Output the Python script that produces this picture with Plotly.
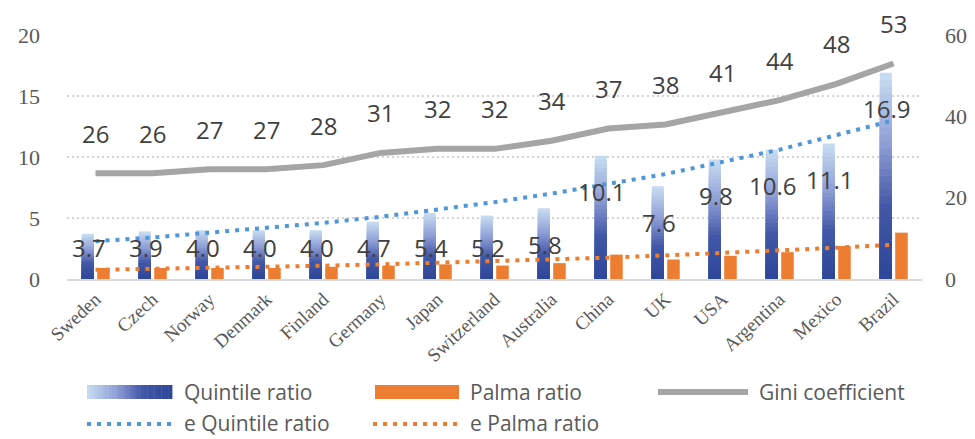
import plotly.graph_objects as go

# ---------------- data ----------------
countries = ["Sweden", "Czech", "Norway", "Denmark", "Finland", "Germany", "Japan",
             "Switzerland", "Australia", "China", "UK", "USA", "Argentina", "Mexico", "Brazil"]
quintile = [3.7, 3.9, 4.0, 4.0, 4.0, 4.7, 5.4, 5.2, 5.8, 10.1, 7.6, 9.8, 10.6, 11.1, 16.9]
palma = [0.9, 0.9, 0.9, 0.9, 1.0, 1.1, 1.2, 1.1, 1.3, 2.0, 1.6, 1.9, 2.2, 2.7, 3.8]
gini = [26, 26, 27, 27, 28, 31, 32, 32, 34, 37, 38, 41, 44, 48, 53]
quintile_trend = [3.1, 3.4, 3.8, 4.2, 4.6, 5.1, 5.7, 6.3, 7.0, 7.8, 8.6, 9.6, 10.6, 11.8, 13.0]
palma_trend = [0.75, 0.82, 0.91, 1.0, 1.09, 1.2, 1.32, 1.45, 1.6, 1.75, 1.93, 2.12, 2.33, 2.56, 2.8]
left_ticks = [0, 5, 10, 15, 20]
right_ticks = [0, 20, 40, 60]
legend_labels = ["Quintile ratio", "Palma ratio", "Gini coefficient", "e Quintile ratio", "e Palma ratio"]

# ---------------- styling ----------------
W, H = 975, 439
OFF = 8  # page body margin
L, R, T, B = 59, 61, 27, 168
PW, PH = W - L - R, H - T - B

def px_x(p):  # screen px -> paper
    return (p - OFF - L) / PW

def px_y(p):
    return (H - B - (p - OFF)) / PH

ORANGE = "#ed7d31"
BLUE_DOT = "#4f97da"
GRAY = "#a5a5a5"
TXT = "#404040"
AX = "#595959"
SANS = "Open Sans"
SERIF = "Liberation Serif, Times New Roman, serif"

stops = [(0.0, (201, 222, 242)), (0.35, (141, 157, 213)), (0.65, (66, 87, 167)), (1.0, (46, 70, 153))]

def grad(t):
    for (t0, c0), (t1, c1) in zip(stops[:-1], stops[1:]):
        if t <= t1:
            f = (t - t0) / (t1 - t0) if t1 > t0 else 0
            c = [round(a + (b - a) * f) for a, b in zip(c0, c1)]
            return "rgb(%d,%d,%d)" % tuple(c)
    return "rgb(%d,%d,%d)" % stops[-1][1]

fig = go.Figure()

# gradient quintile bars (layered: light at top, dark at bottom)
N = 30
for k in range(N):
    t = k / N
    fig.add_trace(go.Bar(
        x=countries, y=[v * (1 - t) for v in quintile],
        offset=-0.24, width=0.21,
        marker=dict(color=grad(t + 0.5 / N), line=dict(width=0)),
        showlegend=False, hoverinfo="skip", name="Quintile ratio"))

fig.add_trace(go.Bar(x=countries, y=palma, offset=0.03, width=0.22,
                     marker=dict(color=ORANGE, line=dict(width=0)),
                     name="Palma ratio", showlegend=False))

fig.add_trace(go.Scatter(x=countries, y=gini, yaxis="y2", mode="lines",
                         line=dict(color=GRAY, width=6), name="Gini coefficient", showlegend=False))

fig.add_trace(go.Scatter(x=countries, y=quintile_trend, mode="lines",
                         line=dict(color=BLUE_DOT, width=4, dash="4px,6px"),
                         name="e Quintile ratio", showlegend=False))
fig.add_trace(go.Scatter(x=countries, y=palma_trend, mode="lines",
                         line=dict(color=ORANGE, width=4, dash="4px,6px"),
                         name="e Palma ratio", showlegend=False))

ann = []
for c, g in zip(countries, gini):
    ann.append(dict(x=c, y=g, xref="x", yref="y2", yshift=40, showarrow=False,
                    text=str(g), font=dict(family=SANS, size=24, color=TXT)))
for c, v in zip(countries, quintile):
    ann.append(dict(x=c, y=max(v - 2.95, 2.6), xref="x", yref="y", xshift=-7, showarrow=False,
                    text="%.1f" % v, font=dict(family=SANS, size=24, color=TXT)))

# custom legend
row1, row2 = 392, 423
shapes = []
lx0, lx1 = 87, 172
ns = 24
for i in range(ns):
    a = lx0 + (lx1 - lx0) * i / ns
    b = lx0 + (lx1 - lx0) * (i + 1) / ns
    shapes.append(dict(type="rect", xref="paper", yref="paper",
                       x0=px_x(a), x1=px_x(b) + 0.0005, y0=px_y(row1 + 7), y1=px_y(row1 - 7),
                       fillcolor=grad((i + 0.5) / ns), line=dict(width=0)))
shapes.append(dict(type="rect", xref="paper", yref="paper",
                   x0=px_x(375), x1=px_x(459), y0=px_y(row1 + 7), y1=px_y(row1 - 7),
                   fillcolor=ORANGE, line=dict(width=0)))
shapes.append(dict(type="line", xref="paper", yref="paper",
                   x0=px_x(658), x1=px_x(748), y0=px_y(row1), y1=px_y(row1),
                   line=dict(color=GRAY, width=6)))
shapes.append(dict(type="line", xref="paper", yref="paper",
                   x0=px_x(87), x1=px_x(172), y0=px_y(row2 + 1), y1=px_y(row2 + 1),
                   line=dict(color=BLUE_DOT, width=4, dash="4px,6px")))
shapes.append(dict(type="line", xref="paper", yref="paper",
                   x0=px_x(373), x1=px_x(459), y0=px_y(row2 + 1), y1=px_y(row2 + 1),
                   line=dict(color=ORANGE, width=4, dash="4px,6px")))

leg_pos = [(182, row1), (468, row1), (757, row1), (182, row2), (468, row2)]
for lab, (x, y) in zip(legend_labels, leg_pos):
    ann.append(dict(x=px_x(x), y=px_y(y), xref="paper", yref="paper", xanchor="left",
                    yanchor="middle", showarrow=False, text=lab,
                    font=dict(family=SANS, size=21, color=AX)))

fig.update_layout(
    width=W, height=H,
    margin=dict(l=L, r=R, t=T, b=B, autoexpand=False),
    paper_bgcolor="white", plot_bgcolor="white",
    barmode="overlay",
    showlegend=False,
    xaxis=dict(type="category", tickangle=-43, showgrid=False, ticks="",
               showline=True, linecolor="#d9d9d9", linewidth=1.5,
               tickfont=dict(family=SERIF, size=19, color=AX)),
    yaxis=dict(range=[0, 20], tickvals=left_ticks, showgrid=True, gridcolor="#d4d4d4",
               gridwidth=2, griddash="2px,3px", zeroline=False, showline=False, ticks="",
               ticklabelstandoff=26, tickfont=dict(family=SERIF, size=22, color=AX)),
    yaxis2=dict(range=[0, 60], tickvals=right_ticks, overlaying="y", side="right",
                showgrid=False, zeroline=False, showline=False, ticks="",
                ticklabelstandoff=22, tickfont=dict(family=SERIF, size=22, color=AX)),
    annotations=ann,
    shapes=shapes,
)

fig.write_html("out.html")
